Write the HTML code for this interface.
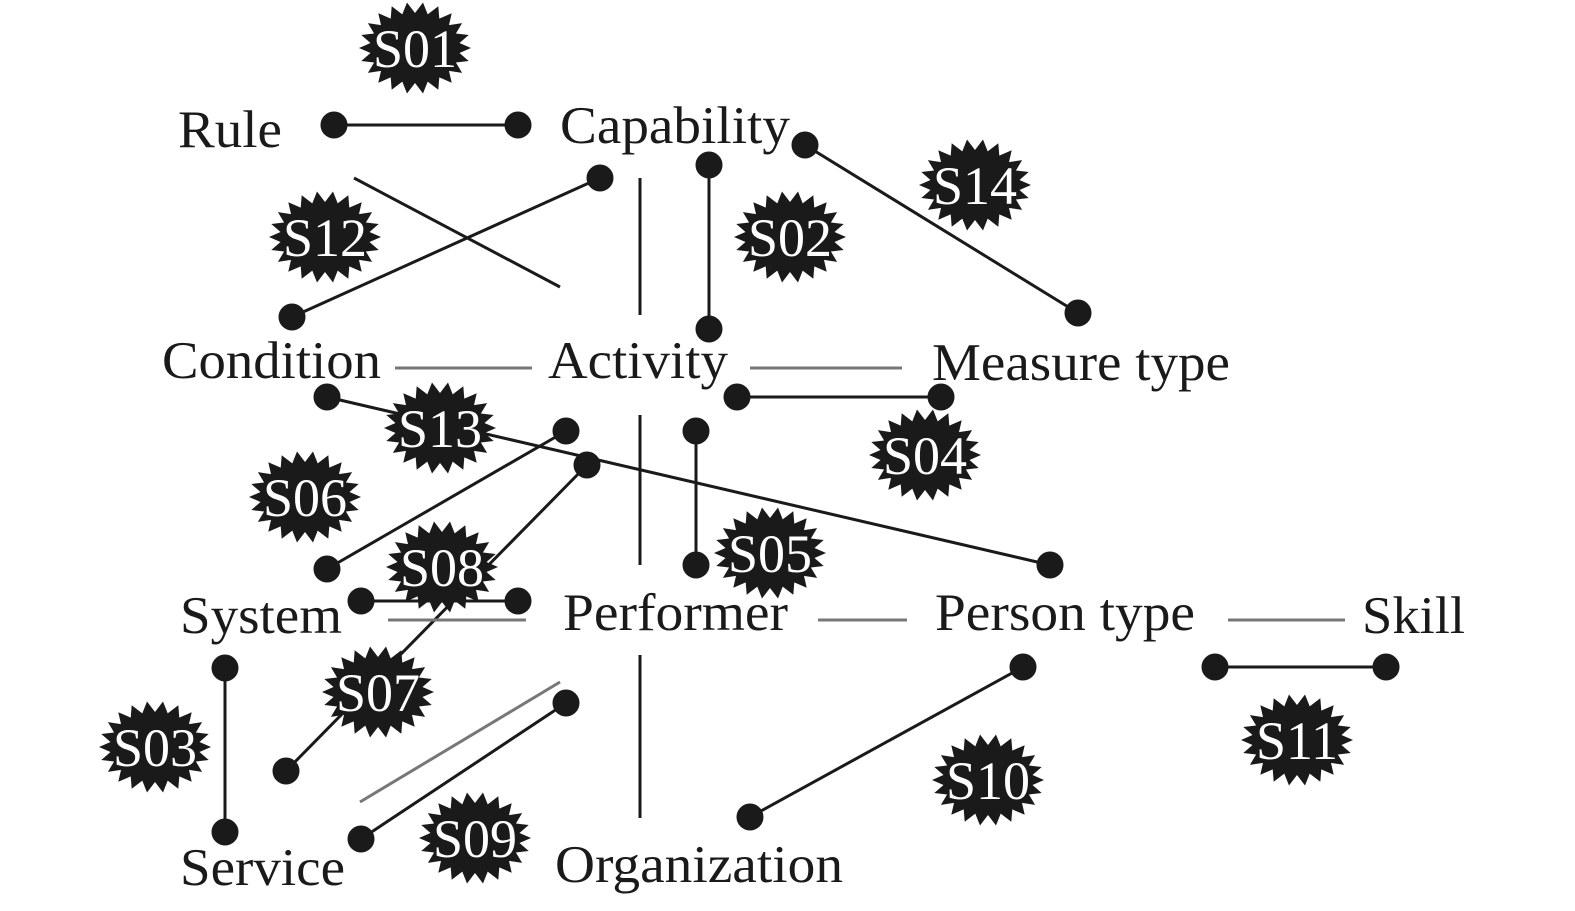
<!DOCTYPE html><html><head><style>body{margin:0;background:#fff}svg{display:block}text{font-family:"Liberation Serif",serif}</style></head><body>
<svg id="s" width="1575" height="911" viewBox="0 0 1575 911">
<g stroke="#1a1a1a" stroke-width="3" fill="#1a1a1a">
<line x1="334" y1="125" x2="518" y2="125"/><circle cx="334" cy="125" r="12"/><circle cx="518" cy="125" r="12"/>
<line x1="600" y1="178" x2="292" y2="317"/><circle cx="600" cy="178" r="12"/><circle cx="292" cy="317" r="12"/>
<line x1="709" y1="165" x2="709" y2="329"/><circle cx="709" cy="165" r="12"/><circle cx="709" cy="329" r="12"/>
<line x1="805" y1="145" x2="1078" y2="313"/><circle cx="805" cy="145" r="12"/><circle cx="1078" cy="313" r="12"/>
<line x1="737" y1="397" x2="941" y2="397"/><circle cx="737" cy="397" r="12"/><circle cx="941" cy="397" r="12"/>
<line x1="327" y1="397" x2="1050" y2="565"/><circle cx="327" cy="397" r="12"/><circle cx="1050" cy="565" r="12"/>
<line x1="566" y1="431" x2="327" y2="569"/><circle cx="566" cy="431" r="12"/><circle cx="327" cy="569" r="12"/>
<line x1="587" y1="465" x2="286" y2="771"/><circle cx="587" cy="465" r="12"/><circle cx="286" cy="771" r="12"/>
<line x1="696" y1="431" x2="696" y2="565"/><circle cx="696" cy="431" r="12"/><circle cx="696" cy="565" r="12"/>
<line x1="361" y1="601" x2="518" y2="601"/><circle cx="361" cy="601" r="12"/><circle cx="518" cy="601" r="12"/>
<line x1="225" y1="668" x2="225" y2="832"/><circle cx="225" cy="668" r="12"/><circle cx="225" cy="832" r="12"/>
<line x1="566" y1="703" x2="361" y2="839"/><circle cx="566" cy="703" r="12"/><circle cx="361" cy="839" r="12"/>
<line x1="1023" y1="667" x2="750" y2="817"/><circle cx="1023" cy="667" r="12"/><circle cx="750" cy="817" r="12"/>
<line x1="1215" y1="667" x2="1386" y2="667"/><circle cx="1215" cy="667" r="12"/><circle cx="1386" cy="667" r="12"/>
<line x1="354" y1="178" x2="560" y2="287"/>
<line x1="640" y1="178" x2="640" y2="315"/><line x1="640" y1="415" x2="640" y2="565"/><line x1="640" y1="655" x2="640" y2="818"/>
</g>
<g stroke="#777" stroke-width="3">
<line x1="395" y1="368" x2="532" y2="368"/><line x1="750" y1="368" x2="902" y2="368"/>
<line x1="388" y1="620" x2="526" y2="620"/><line x1="818" y1="620" x2="907" y2="620"/>
<line x1="1228" y1="620" x2="1345" y2="620"/><line x1="360" y1="802" x2="560" y2="682"/>
</g>
<g id="b"></g>
<g font-size="53" fill="#1a1a1a" lengthAdjust="spacingAndGlyphs">
<text x="178" y="147" textLength="104" lengthAdjust="spacingAndGlyphs">Rule</text>
<text x="560" y="143" textLength="230" lengthAdjust="spacingAndGlyphs">Capability</text>
<text x="162" y="378" textLength="219" lengthAdjust="spacingAndGlyphs">Condition</text>
<text x="548" y="378" textLength="180" lengthAdjust="spacingAndGlyphs">Activity</text>
<text x="932" y="380" textLength="298" lengthAdjust="spacingAndGlyphs">Measure type</text>
<text x="180" y="633" textLength="162" lengthAdjust="spacingAndGlyphs">System</text>
<text x="563" y="630" textLength="225" lengthAdjust="spacingAndGlyphs">Performer</text>
<text x="935" y="630" textLength="260" lengthAdjust="spacingAndGlyphs">Person type</text>
<text x="1362" y="633" textLength="103" lengthAdjust="spacingAndGlyphs">Skill</text>
<text x="180" y="885" textLength="165" lengthAdjust="spacingAndGlyphs">Service</text>
<text x="555" y="882" textLength="288" lengthAdjust="spacingAndGlyphs">Organization</text>
</g>
<g id="t" font-size="54" fill="#fff" text-anchor="middle">
<text x="415" y="67">S01</text><text x="975" y="204">S14</text><text x="325" y="256">S12</text><text x="790" y="256">S02</text>
<text x="440" y="447">S13</text><text x="925" y="474">S04</text><text x="305" y="516">S06</text><text x="442" y="586">S08</text>
<text x="770" y="572">S05</text><text x="378" y="711">S07</text><text x="155" y="766">S03</text><text x="1297" y="759">S11</text>
<text x="988" y="799">S10</text><text x="475" y="857">S09</text>
</g>
</svg>
<script>
var c=[[415,48],[975,185],[325,237],[790,237],[440,428],[925,455],[305,497],[442,567],[770,553],[378,692],[155,747],[1297,740],[988,780],[475,838]];
var g=document.getElementById('b'),h='';
c.forEach(function(p){var pts=[],n=22;for(var i=0;i<2*n;i++){var a=Math.PI*i/n,o=i%2==0;var rx=o?56:45,ry=o?46:35;pts.push((p[0]+rx*Math.cos(a)).toFixed(1)+','+(p[1]+ry*Math.sin(a)).toFixed(1));}
h+='<polygon fill="#1a1a1a" points="'+pts.join(' ')+'"/>';});
g.innerHTML=h;
</script>
</body></html>
